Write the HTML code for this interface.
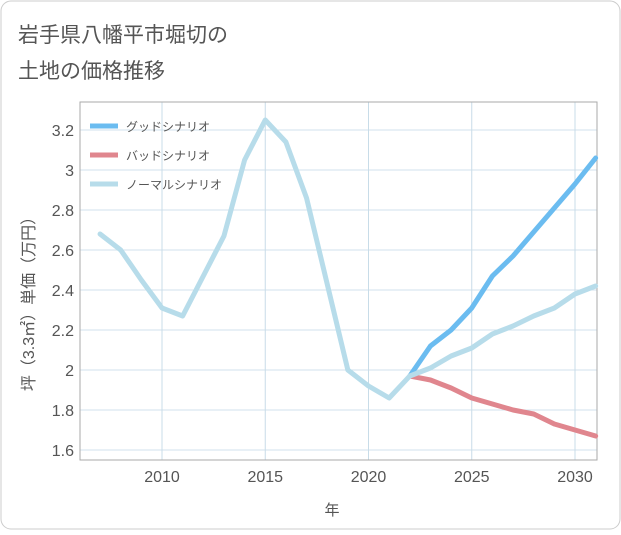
<!DOCTYPE html>
<html><head><meta charset="utf-8"><style>
body{margin:0;background:#fff;font-family:"Liberation Sans","Noto Sans CJK JP",sans-serif;}
</style></head><body>
<svg width="621" height="530" xmlns="http://www.w3.org/2000/svg" id="c">
<rect x="1" y="1" width="619" height="528" rx="10" fill="#fff" stroke="#ccc"/>
<text x="18" y="42" font-size="21" fill="#555">岩手県八幡平市堀切の</text>
<text x="18" y="78" font-size="21" fill="#555">土地の価格推移</text>
<g id="grid"></g>
<g id="series"></g>
<g id="legend"></g>
<text x="332" y="515" font-size="15" fill="#555" text-anchor="middle">年</text>
<text transform="translate(34,300) rotate(-90)" font-size="16" fill="#555" text-anchor="middle">坪（3.3㎡）単価（万円）</text>
</svg>
<script>
const years=[2007,2008,2009,2010,2011,2012,2013,2014,2015,2016,2017,2018,2019,2020,2021,2022,2023,2024,2025,2026,2027,2028,2029,2030,2031];
const normal=[2.68,2.60,2.45,2.31,2.27,2.47,2.67,3.05,3.25,3.14,2.86,2.43,2.00,1.92,1.86,1.97,2.01,2.07,2.11,2.18,2.22,2.27,2.31,2.38,2.42];
const futureYears=[2022,2023,2024,2025,2026,2027,2028,2029,2030,2031];
const good=[1.97,2.12,2.20,2.31,2.47,2.57,2.69,2.81,2.93,3.06];
const bad=[1.97,1.95,1.91,1.86,1.83,1.80,1.78,1.73,1.70,1.67];
const xTicks=[2010,2015,2020,2025,2030];
const yTicks=[1.6,1.8,2,2.2,2.4,2.6,2.8,3,3.2];
const yTickLabels=["1.6","1.8","2","2.2","2.4","2.6","2.8","3","3.2"];
const L=80,R=597,T=102,B=460;
const X=y=>162+(y-2010)*20.65;
const Y=v=>130+(3.2-v)*200;
const NS="http://www.w3.org/2000/svg";
function mk(p,t,a){const e=document.createElementNS(NS,t);for(const k in a)e.setAttribute(k,a[k]);p.appendChild(e);return e;}
const g=document.getElementById('grid');
yTicks.forEach(v=>{const l=mk(g,'line',{x1:L,x2:R,y1:Y(v),y2:Y(v),stroke:'#d2e2ec','stroke-width':1});
});
xTicks.forEach(y=>{const l=mk(g,'line',{x1:X(y),x2:X(y),y1:T,y2:B,stroke:'#c8dce8','stroke-width':1});
});
const fr=mk(g,'rect',{x:L,y:T,width:R-L,height:B-T,fill:'none',stroke:'#aaa'});

yTicks.forEach((v,i)=>{const t=mk(g,'text',{x:L-6,y:Y(v)+6,'font-size':16,fill:'#555','text-anchor':'end'});t.textContent=yTickLabels[i];
});
xTicks.forEach(v=>{const t=mk(g,'text',{x:X(v),y:B+22,'font-size':16,fill:'#555','text-anchor':'middle'});t.textContent=v;
});
const s=document.getElementById('series');
function line(xs,vs,c,name){const d=xs.map((x,i)=>(i?'L':'M')+X(x)+','+Y(vs[i])).join('');
const p=mk(s,'path',{d,fill:'none',stroke:c,'stroke-width':5,'stroke-linejoin':'round','stroke-linecap':'round'});
}
line(futureYears,bad,'#e0868e','bad-scenario-line');
line(futureYears,good,'#6bbcf0','good-scenario-line');
line(years,normal,'#b7dcea','normal-scenario-line');
const lg=document.getElementById('legend');
[['グッドシナリオ','#6bbcf0'],['バッドシナリオ','#e0868e'],['ノーマルシナリオ','#b7dcea']].forEach((e,i)=>{
const y=126+i*29;const l=mk(lg,'line',{x1:90,x2:118,y1:y,y2:y,stroke:e[1],'stroke-width':5});

const t=mk(lg,'text',{x:126,y:y+5,'font-size':12,fill:'#555'});t.textContent=e[0];
});
</script>
</body></html>
